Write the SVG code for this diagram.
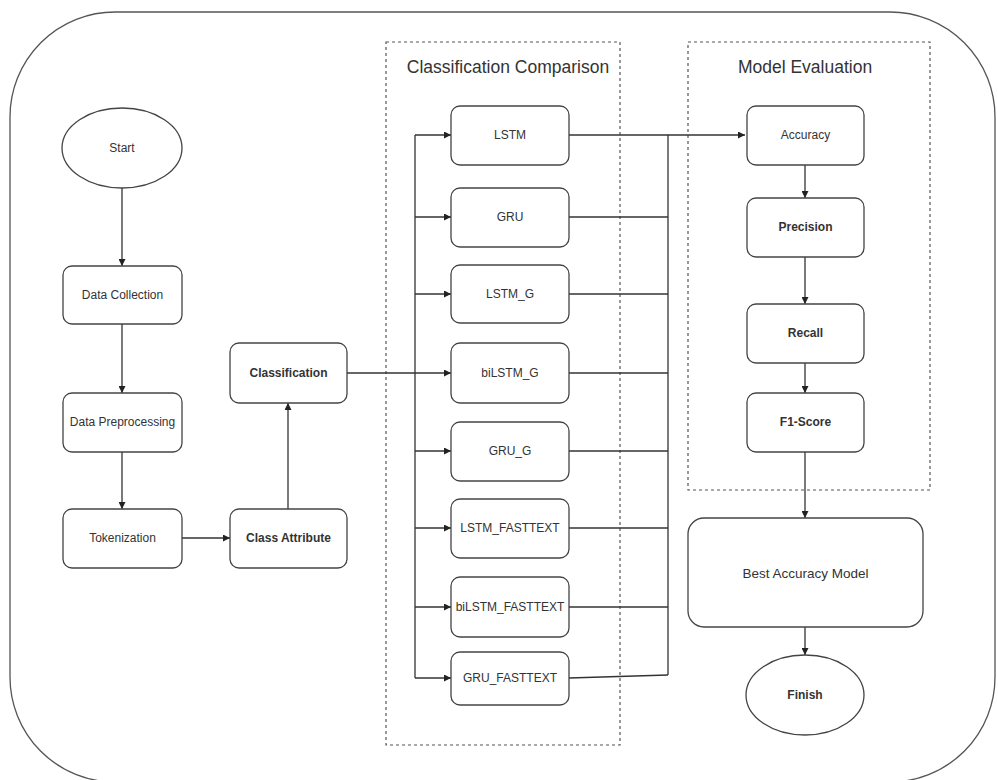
<svg xmlns="http://www.w3.org/2000/svg" width="998" height="780" viewBox="0 0 998 780">
<style>
.n{fill:#fff;stroke:#444;stroke-width:1.3}
.t{font-family:"Liberation Sans",Arial,sans-serif;font-size:12px;fill:#333;text-anchor:middle;dominant-baseline:central}
.b{font-weight:bold}
.h{font-family:"Liberation Sans",Arial,sans-serif;font-size:17.5px;fill:#333;text-anchor:middle}
.c{fill:none;stroke:#333;stroke-width:1.3}
.d{fill:none;stroke:#555;stroke-width:1.2;stroke-dasharray:3 3}
</style>
<defs>
<marker id="a" viewBox="0 0 10 10" refX="10" refY="5" markerWidth="7" markerHeight="7" markerUnits="userSpaceOnUse" orient="auto">
<path d="M0,0 L10,5 L0,10 z" fill="#222"/>
</marker>
</defs>
<rect width="998" height="780" fill="#fff"/>
<rect id="frame" x="10" y="12" width="985" height="770" rx="105" ry="105" fill="none" stroke="#555" stroke-width="1.3"/>
<g id="group-classification-comparison">
<rect class="d" x="386" y="42" width="234" height="703"/>
<text class="h" x="508" y="73">Classification Comparison</text>
</g>
<g id="group-model-evaluation">
<rect class="d" x="688" y="42" width="242" height="448"/>
<text class="h" x="805" y="73">Model Evaluation</text>
</g>
<g id="connectors">
<path class="c" d="M122,188 V266" marker-end="url(#a)"/>
<path class="c" d="M122,324 V393" marker-end="url(#a)"/>
<path class="c" d="M122,452 V509" marker-end="url(#a)"/>
<path class="c" d="M182,538 H230" marker-end="url(#a)"/>
<path class="c" d="M288,509 V403" marker-end="url(#a)"/>
<path class="c" d="M347,373 H451" marker-end="url(#a)"/>
<path class="c" d="M415,135 V678"/>
<path class="c" d="M415,135 H451" marker-end="url(#a)"/>
<path class="c" d="M415,217 H451" marker-end="url(#a)"/>
<path class="c" d="M415,294 H451" marker-end="url(#a)"/>
<path class="c" d="M415,451 H451" marker-end="url(#a)"/>
<path class="c" d="M415,528 H451" marker-end="url(#a)"/>
<path class="c" d="M415,607 H451" marker-end="url(#a)"/>
<path class="c" d="M415,678 H451" marker-end="url(#a)"/>
<path class="c" d="M569,135 H745" marker-end="url(#a)"/>
<path class="c" d="M569,217 H668"/>
<path class="c" d="M569,294 H668"/>
<path class="c" d="M569,373 H668"/>
<path class="c" d="M569,451 H668"/>
<path class="c" d="M569,528 H668"/>
<path class="c" d="M569,607 H668"/>
<path class="c" d="M569,678 L668,675"/>
<path class="c" d="M668,135 V675"/>
<path class="c" d="M805,165 V198" marker-end="url(#a)"/>
<path class="c" d="M805,257 V304" marker-end="url(#a)"/>
<path class="c" d="M805,363 V393" marker-end="url(#a)"/>
<path class="c" d="M805,452 V518" marker-end="url(#a)"/>
<path class="c" d="M805,627 V655" marker-end="url(#a)"/>
</g>
<g id="start"><ellipse class="n" cx="122" cy="148" rx="60" ry="40"/><text class="t" x="122" y="148">Start</text></g>
<g id="data-collection"><rect class="n" x="63" y="266" width="119" height="58" rx="9"/><text class="t" x="122.5" y="295">Data Collection</text></g>
<g id="data-preprocessing"><rect class="n" x="63" y="393" width="119" height="59" rx="9"/><text class="t" x="122.5" y="422">Data Preprocessing</text></g>
<g id="tokenization"><rect class="n" x="63" y="509" width="119" height="59" rx="9"/><text class="t" x="122.5" y="538">Tokenization</text></g>
<g id="class-attribute"><rect class="n" x="230" y="509" width="117" height="59" rx="9"/><text class="t b" x="288.5" y="538">Class Attribute</text></g>
<g id="classification"><rect class="n" x="230" y="343" width="117" height="60" rx="9"/><text class="t b" x="288.5" y="373">Classification</text></g>
<g id="lstm"><rect class="n" x="451" y="106" width="118" height="59" rx="9"/><text class="t" x="510" y="135">LSTM</text></g>
<g id="gru"><rect class="n" x="451" y="188" width="118" height="59" rx="9"/><text class="t" x="510" y="217">GRU</text></g>
<g id="lstm-g"><rect class="n" x="451" y="265" width="118" height="58" rx="9"/><text class="t" x="510" y="294">LSTM_G</text></g>
<g id="bilstm-g"><rect class="n" x="451" y="343" width="118" height="60" rx="9"/><text class="t" x="510" y="373">biLSTM_G</text></g>
<g id="gru-g"><rect class="n" x="451" y="422" width="118" height="59" rx="9"/><text class="t" x="510" y="451">GRU_G</text></g>
<g id="lstm-fasttext"><rect class="n" x="451" y="499" width="118" height="59" rx="9"/><text class="t" x="510" y="528">LSTM_FASTTEXT</text></g>
<g id="bilstm-fasttext"><rect class="n" x="451" y="577" width="118" height="60" rx="9"/><text class="t" x="510" y="607">biLSTM_FASTTEXT</text></g>
<g id="gru-fasttext"><rect class="n" x="451" y="652" width="118" height="53" rx="9"/><text class="t" x="510" y="678">GRU_FASTTEXT</text></g>
<g id="accuracy"><rect class="n" x="747" y="106" width="117" height="59" rx="9"/><text class="t" x="805.5" y="135">Accuracy</text></g>
<g id="precision"><rect class="n" x="747" y="198" width="117" height="59" rx="9"/><text class="t b" x="805.5" y="227">Precision</text></g>
<g id="recall"><rect class="n" x="747" y="304" width="117" height="59" rx="9"/><text class="t b" x="805.5" y="333">Recall</text></g>
<g id="f1-score"><rect class="n" x="747" y="393" width="117" height="59" rx="9"/><text class="t b" x="805.5" y="422">F1-Score</text></g>
<g id="best-accuracy-model"><rect class="n" x="688" y="518" width="235" height="109" rx="16"/><text class="t" x="805.5" y="573" style="font-size:13.5px">Best Accuracy Model</text></g>
<g id="finish"><ellipse class="n" cx="805" cy="695" rx="59" ry="40"/><text class="t b" x="805" y="695">Finish</text></g>
</svg>
